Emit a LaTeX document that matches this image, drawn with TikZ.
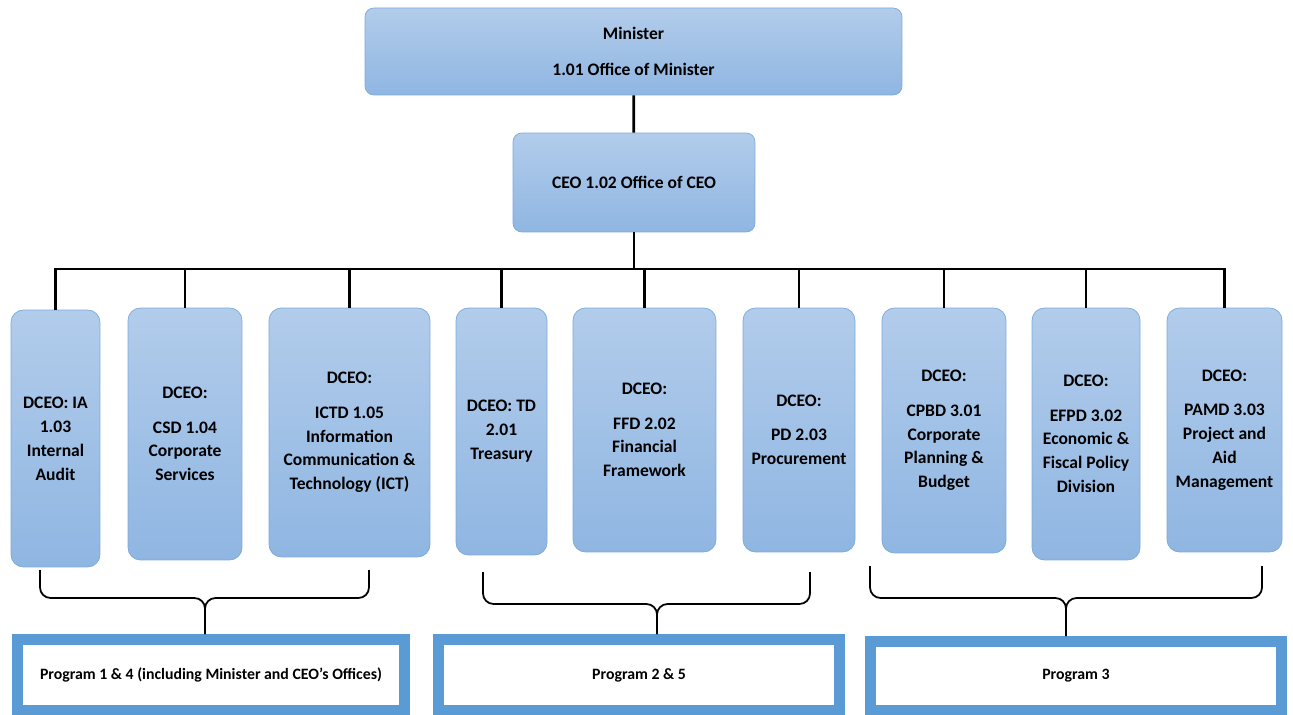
\documentclass[tikz,border=0pt]{standalone}
\usepackage{fontspec}
\setmainfont{Carlito}
\definecolor{unittop}{RGB}{178,204,235}
\definecolor{unitbot}{RGB}{143,182,226}
\definecolor{unitline}{RGB}{125,168,218}
\definecolor{progline}{RGB}{91,155,213}

\begin{document}
\begin{tikzpicture}[x=0.02cm,y=-0.02cm,
	unit/.style={draw=unitline,rounded corners=5pt,top color=unittop,bottom color=unitbot,align=center,inner sep=0pt,font=\bfseries\fontsize{10}{13.6}\selectfont},
	dceo/.style={unit,rounded corners=7pt,minimum height=4.9cm},
	prog/.style={draw=progline,fill=white,line width=0.22cm,inner sep=0pt,font=\bfseries\fontsize{9}{11}\selectfont},
	link/.style={line width=1.6pt},
	bracket/.style={line width=1pt,rounded corners=6pt}]
			\useasboundingbox (0,0) rectangle (1293,715);
			% top of the chart
			\draw (633.5,51.5) node [unit,minimum width=10.74cm,minimum height=1.74cm] (min) {Minister\\[6.8pt]1.01 Office of Minister};
			\draw (634,182.5) node [unit,minimum width=4.84cm,minimum height=1.98cm] (ceo) {CEO 1.02 Office of CEO};
			% deputy CEO units
			\draw (55.5,438.5) node [dceo,minimum width=1.78cm,minimum height=5.14cm] (ia) {DCEO: IA\\1.03\\Internal\\Audit};
			\draw (185,434) node [dceo,minimum width=2.28cm,minimum height=5.04cm] (csd) {DCEO:\\[6pt]CSD 1.04\\Corporate\\Services};
			\draw (349.5,432.5) node [dceo,minimum width=3.22cm,minimum height=4.98cm] (ictd) {DCEO:\\[6pt]ICTD 1.05\\Information\\Communication \&\\Technology (ICT)};
			\draw (501.5,431.5) node [dceo,minimum width=1.82cm,minimum height=4.94cm] (td) {DCEO: TD\\2.01\\Treasury};
			\draw (644.5,430) node [dceo,minimum width=2.86cm,minimum height=4.88cm] (ffd) {DCEO:\\[6pt]FFD 2.02\\Financial\\Framework};
			\draw (799,430) node [dceo,minimum width=2.24cm,minimum height=4.88cm] (pd) {DCEO:\\[6pt]PD 2.03\\Procurement};
			\draw (944,430.5) node [dceo,minimum width=2.48cm,minimum height=4.9cm] (cpbd) {DCEO:\\[6pt]CPBD 3.01\\Corporate\\Planning \&\\Budget};
			\draw (1086,434) node [dceo,minimum width=2.16cm,minimum height=5.04cm] (efpd) {DCEO:\\[6pt]EFPD 3.02\\Economic \&\\Fiscal Policy\\Division};
			\draw (1224.5,430) node [dceo,minimum width=2.3cm,minimum height=4.88cm] (pamd) {DCEO:\\[6pt]PAMD 3.03\\Project and\\Aid\\Management};
			% programs
			\draw (211,675) node [prog,minimum width=7.74cm,minimum height=1.42cm] (p1) {Program 1 \& 4 (including Minister and CEO’s Offices)};
			\draw (639,675) node [prog,minimum width=8.02cm,minimum height=1.42cm] (p2) {Program 2 \& 5};
			\draw (1076,676) node [prog,minimum width=8.22cm,minimum height=1.38cm] (p3) {Program 3};
			% lines
			\coordinate (bus) at (634,269);
			\path[link]
				(min) edge (ceo)
				(ceo) edge (bus);
			\foreach \n in {ia,csd,ictd,td,ffd,pd,cpbd,efpd,pamd}
				\draw[link] (bus) -| (\n.north);
			% braces
			\coordinate (br1) at (205,598);
			\coordinate (br2) at (657,604);
			\coordinate (br3) at (1066,598);
			\draw[bracket] (40,570) |- (br1) -- (br1 |- p1.north);
			\draw[bracket] (369,570) |- (br1) -- (br1 |- p1.north);
			\draw[bracket] (483,572) |- (br2) -- (br2 |- p2.north);
			\draw[bracket] (810,572) |- (br2) -- (br2 |- p2.north);
			\draw[bracket] (870,566) |- (br3) -- (br3 |- p3.north);
			\draw[bracket] (1262,566) |- (br3) -- (br3 |- p3.north);
		\end{tikzpicture}
\end{document}
